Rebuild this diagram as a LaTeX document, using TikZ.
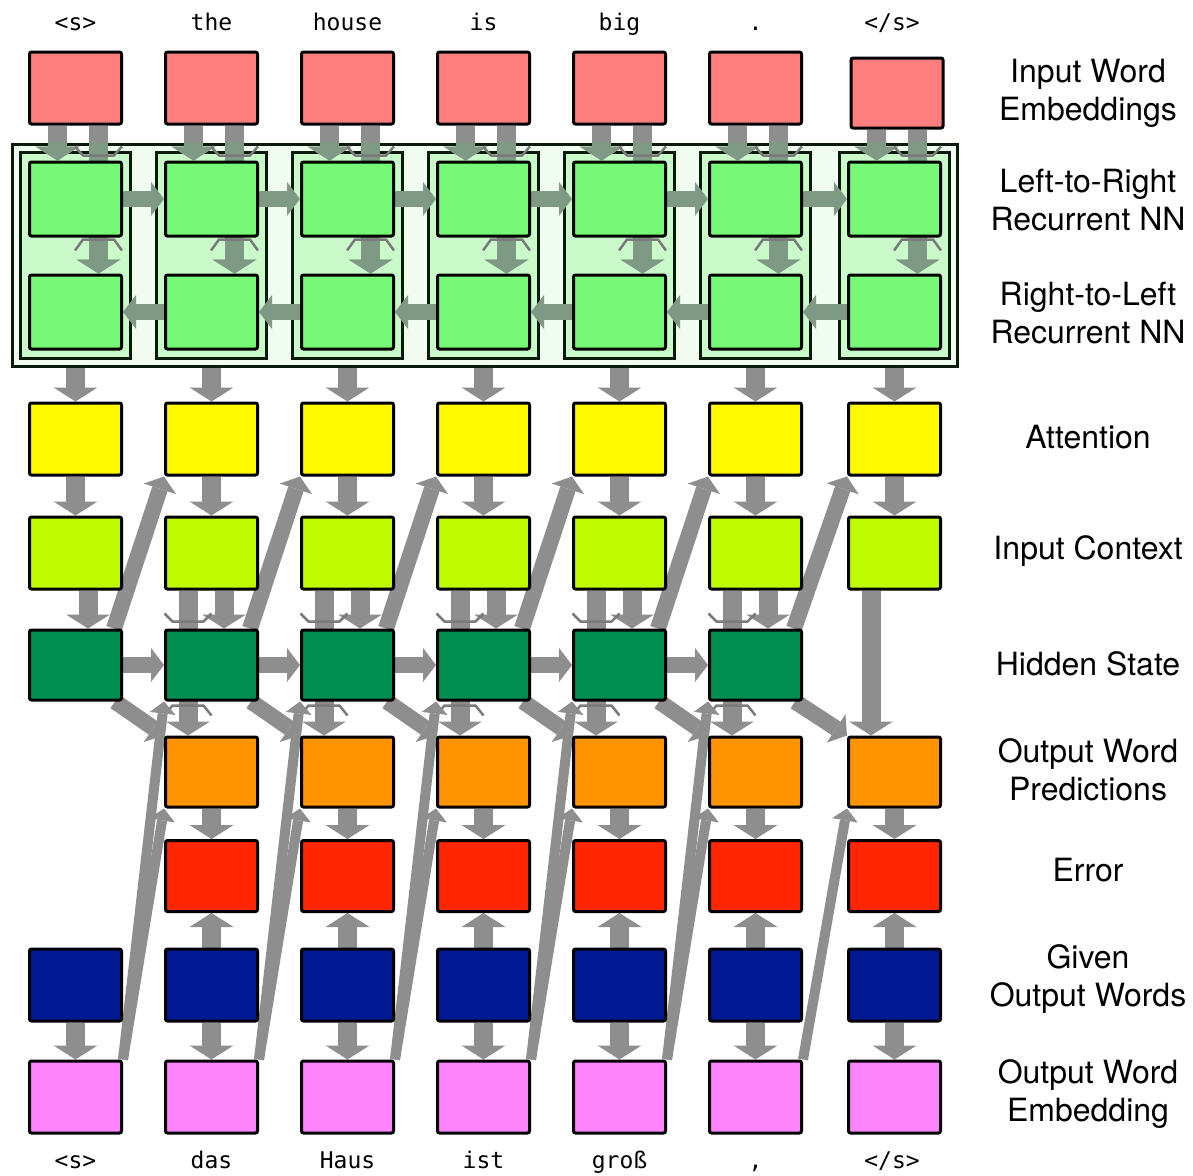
\documentclass[tikz,border=0pt]{standalone}
\usepackage{fontspec}
\newfontfamily\labelfont{TeX Gyre Heros}
\newfontfamily\wordfont{DejaVu Sans Mono}
\usetikzlibrary{arrows.meta,calc}

\definecolor{embred}{HTML}{FF7F7F}
\definecolor{rnngreen}{HTML}{76F977}
\definecolor{encback}{HTML}{F0FCF0}
\definecolor{colback}{HTML}{CAFACA}
\definecolor{attyellow}{HTML}{FFF900}
\definecolor{ctxlime}{HTML}{BFFC00}
\definecolor{hidgreen}{HTML}{008F51}
\definecolor{predorange}{HTML}{FF9300}
\definecolor{errred}{HTML}{FF2600}
\definecolor{givenblue}{HTML}{011993}
\definecolor{outpink}{HTML}{FF85FF}
\definecolor{arrgray}{HTML}{8E8E8E}
\definecolor{encgray}{HTML}{7F9A84}
\definecolor{ghostgray}{HTML}{7A7A7A}
\definecolor{framedark}{HTML}{0A1A0A}

\pgfdeclarelayer{back}
\pgfdeclarelayer{mid}
\pgfsetlayers{back,mid,main}

\def\cols{0/75.5,1/211.5,2/347.5,3/483.5,4/619.5,5/755.5,6/894.5}

\begin{document}
\begin{tikzpicture}[x=1pt, y=-1pt,
  box/.style={draw=black, line width=3pt, rounded corners=2pt, minimum width=92pt, minimum height=72pt, inner sep=0pt},
  encframe/.style={draw=framedark, line width=3pt, inner sep=0pt},
  fat/.style={draw=#1, line width=19pt, -{Triangle[width=44pt, length=14pt, line width=0pt]}},
  fat/.default=arrgray,
  side/.style={draw=#1, line width=16pt, -{Triangle[width=34pt, length=13pt, line width=0pt]}},
  side/.default=arrgray,
  slim/.style={draw=arrgray, line width=10pt, -{Triangle[width=26pt, length=12pt, line width=0pt]}},
  ghost/.style={draw=ghostgray, line width=2.5pt, line join=round},
  word/.style={font=\wordfont\fontsize{23}{26}\selectfont, anchor=base},
  lbl/.style={font=\labelfont\fontsize{32}{38}\selectfont, align=center}
]
\useasboundingbox (0,0) rectangle (1193,1175);

% Encoder frames (behind everything)
\begin{pgfonlayer}{back}
\node[encframe, fill=encback, minimum width=945pt, minimum height=222pt] (enc) at (484.5,255) {};
\foreach \i/\x in \cols
  \node[encframe, fill=colback, minimum width=110pt, minimum height=206pt] (col\i) at (\x,255) {};
\end{pgfonlayer}

% Boxes, one column per word
\foreach \i/\x in \cols {
  \node[box, fill=rnngreen, minimum height=74pt] (f\i) at (\x,199) {};
  \node[box, fill=rnngreen, minimum height=74pt] (b\i) at (\x,312) {};
  \node[box, fill=attyellow] (a\i) at (\x,439) {};
  \node[box, fill=ctxlime] (c\i) at (\x,553) {};
  \node[box, fill=givenblue] (g\i) at (\x,985) {};
  \node[box, fill=outpink] (o\i) at (\x,1097) {};
}
\foreach \i/\x in {0/75.5,1/211.5,2/347.5,3/483.5,4/619.5,5/755.5} {
  \node[box, fill=embred] (e\i) at (\x,88) {};
  \node[box, fill=hidgreen, minimum height=70pt] (h\i) at (\x,665) {};
}
\node[box, fill=embred, minimum height=70pt] (e6) at (897,93) {};
\foreach \i/\x in {1/211.5,2/347.5,3/483.5,4/619.5,5/755.5,6/894.5} {
  \node[box, fill=predorange, minimum height=70pt] (p\i) at (\x,772) {};
  \node[box, fill=errred, minimum height=71pt] (r\i) at (\x,876) {};
}

\begin{pgfonlayer}{mid}
% Input embeddings into both recurrent layers
\foreach \i in {0,...,6} {
  \draw[fat] ($(f\i.north |- e\i.south)+(-18,0)$) -- ($(f\i.north)+(-18,0)$);
  \draw[fat] ($(f\i.north |- e\i.south)+(23,0)$) -- ($(b\i.north)+(23,0)$);
}
\begin{scope}
  \clip (enc.north west) rectangle (enc.south east);
  \foreach \i in {0,...,6} {
    \draw[fat=encgray] ($(f\i.north |- e\i.south)+(-18,0)$) -- ($(f\i.north)+(-18,0)$);
    \draw[fat=encgray] ($(f\i.north |- e\i.south)+(23,0)$) -- ($(b\i.north)+(23,0)$);
  }
\end{scope}
\foreach \i in {0,...,6} {
  \draw[ghost] ($(f\i.north)+(-0.5,-14)$) -- ++(8,9) -- ++(31,0) -- ++(8,-9);
  \draw[ghost] ($(f\i.south)+(-0.5,13)$) -- ++(8,-11) -- ++(31,0) -- ++(8,11);
}

% Left-to-right and right-to-left recurrences
\foreach \i [count=\j from 1] in {0,...,5} {
  \draw[side=encgray] (f\i.east) -- (f\j.west);
  \draw[side=encgray] (b\j.west) -- (b\i.east);
}

% Encoder -> attention -> input context, given words -> embeddings
\foreach \i in {0,...,6} {
  \draw[fat] (a\i.north |- enc.south) -- (a\i.north);
  \draw[fat] (a\i.south) -- (c\i.north);
  \draw[fat] (g\i.south) -- (o\i.north);
}

% Input context into hidden state and output prediction
\draw[fat] ($(c0.south)+(12.5,0)$) -- ($(h0.north)+(12.5,0)$);
\foreach \i in {1,...,5} {
  \draw[fat] ($(c\i.south)+(12.5,0)$) -- ($(h\i.north)+(12.5,0)$);
  \draw[fat] ($(c\i.south)+(-23.5,0)$) -- ($(p\i.north)+(-23.5,0)$);
  \draw[ghost] ($(h\i.north)+(-47,-15)$) -- ++(8,8) -- ++(31,0) -- ++(8,-8);
  \draw[ghost] ($(h\i.south)+(-47,14)$) -- ++(8,-10) -- ++(31,0) -- ++(8,10);
}
\draw[fat] ($(c6.south)+(-23.5,0)$) -- ($(p6.north)+(-23.5,0)$);

% Decoder state to the next step
\foreach \i [count=\j from 1] in {0,...,5} {
  \draw[side] ($(h\i.north east)+(-9,0)$) -- (a\j.south west);
  \draw[side] ($(h\i.south east)+(-8,0)$) -- (p\j.north west);
  \draw[slim] (o\i.north east) -- (p\j.south west);
}
\foreach \i [count=\j from 1] in {0,...,4} {
  \draw[side] (h\i.east) -- (h\j.west);
  \draw[slim] (o\i.north east) -- (h\j.south west);
}

% Predictions and given words into the error
\foreach \i in {1,...,6} {
  \draw[fat] (p\i.south) -- (r\i.north);
  \draw[fat] (g\i.north) -- (r\i.south);
}
\end{pgfonlayer}

% Source words (top)
\node[word] (w0) at (75.5,30) {<s>};
\node[word] (w1) at (211.5,30) {the};
\node[word] (w2) at (347.5,30) {house};
\node[word] (w3) at (483.5,30) {is};
\node[word] (w4) at (619.5,30) {big};
\node[word] (w5) at (755.5,30) {.};
\node[word] (w6) at (892,30) {</s>};

% Target words (bottom)
\node[word] (t0) at (75.5,1168) {<s>};
\node[word] (t1) at (211.5,1168) {das};
\node[word] (t2) at (347.5,1168) {Haus};
\node[word] (t3) at (483.5,1168) {ist};
\node[word] (t4) at (619.5,1168) {groß};
\node[word] (t5) at (755.5,1168) {,};
\node[word] (t6) at (892,1168) {</s>};

% Row labels (right side)
\node[lbl] (l1) at (1088,93) {Input Word\\Embeddings};
\node[lbl] (l2) at (1088,200) {Left-to-Right\\Recurrent NN};
\node[lbl] (l3) at (1088,313) {Right-to-Left\\Recurrent NN};
\node[lbl] (l4) at (1088,437) {Attention};
\node[lbl] (l5) at (1088,551) {Input Context};
\node[lbl] (l6) at (1088,664) {Hidden State};
\node[lbl] (l7) at (1088,770) {Output Word\\Predictions};
\node[lbl] (l8) at (1088,870) {Error};
\node[lbl] (l9) at (1088,979) {Given\\Output Words};
\node[lbl] (l10) at (1088,1094) {Output Word\\Embedding};

\end{tikzpicture}
\end{document}
